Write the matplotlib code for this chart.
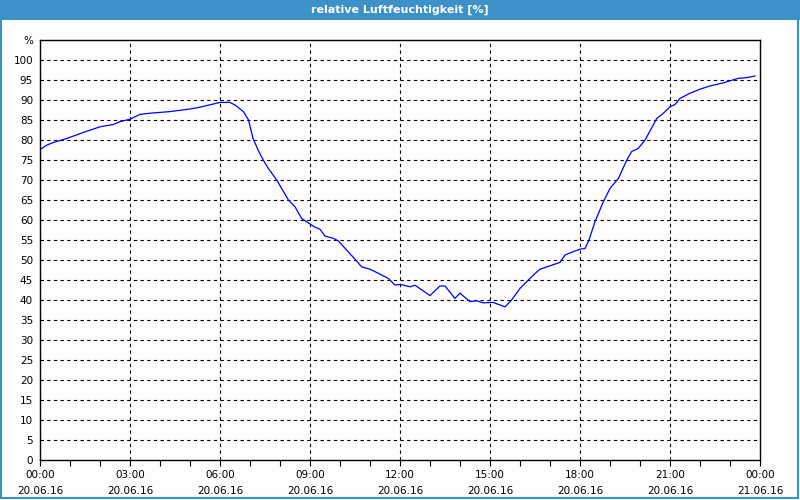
import numpy as np
import matplotlib
matplotlib.use("Agg")
import matplotlib.pyplot as plt
from matplotlib.patches import Rectangle

# Messwerte (Stunden ab 20.06.16 00:00, rel. Feuchte in %)
hours = [0.0, 0.1, 0.22, 0.45, 0.9, 1.45, 2.0, 2.45, 2.67, 3.0, 3.33, 3.67,
         4.33, 5.0, 5.33, 5.78, 6.0, 6.33, 6.5, 6.78, 6.95, 7.1, 7.27, 7.44,
         7.61, 7.89, 8.28, 8.5, 8.72, 9.0, 9.17, 9.33, 9.5, 9.78, 9.94, 10.5,
         10.72, 11.0, 11.39, 11.61, 11.83, 12.02, 12.33, 12.5, 13.0, 13.33,
         13.5, 13.83, 14.0, 14.33, 14.56, 14.77, 15.1, 15.5, 15.72, 16.0,
         16.33, 16.6, 16.67, 17.33, 17.5, 17.78, 18.0, 18.17, 18.3, 18.5,
         18.78, 19.0, 19.28, 19.56, 19.72, 19.94, 20.17, 20.56, 20.78, 21.0,
         21.17, 21.33, 21.67, 22.0, 22.33, 22.78, 23.27, 23.56, 23.83]
humidity = [77.5, 78.1, 78.7, 79.4, 80.4, 81.9, 83.3, 83.9, 84.6, 85.2, 86.4,
            86.7, 87.1, 87.75, 88.2, 89.0, 89.4, 89.4, 88.75, 87.1, 85.0, 80.4,
            77.5, 75.0, 72.9, 70.0, 65.0, 63.3, 60.4, 59.0, 58.2, 57.7, 56.0,
            55.4, 54.8, 50.2, 48.3, 47.7, 46.25, 45.4, 43.75, 43.9, 43.3, 43.7,
            41.1, 43.5, 43.5, 40.4, 41.7, 39.6, 39.8, 39.3, 39.4, 38.3, 40.0,
            42.9, 45.4, 47.3, 47.7, 49.4, 51.25, 52.1, 52.7, 52.9, 55.0, 59.6,
            64.6, 67.9, 70.4, 75.0, 77.1, 77.9, 80.0, 85.4, 86.7, 88.3, 88.9,
            90.4, 91.7, 92.7, 93.5, 94.3, 95.4, 95.6, 96.0]

major_hours = [0, 3, 6, 9, 12, 15, 18, 21, 24]
major_labels = ['00:00\n20.06.16', '03:00\n20.06.16', '06:00\n20.06.16',
                '09:00\n20.06.16', '12:00\n20.06.16', '15:00\n20.06.16',
                '18:00\n20.06.16', '21:00\n20.06.16', '00:00\n21.06.16']
y_ticks = list(range(0, 101, 5))

title_blue = '#3c91c8'
bg = '#fcfdfc'

fig = plt.figure(figsize=(8, 5), dpi=100, facecolor=bg)

# Titelleiste und Fensterrahmen
fig.patches.append(Rectangle((0, 0.96), 1, 0.04, transform=fig.transFigure,
                             facecolor=title_blue, edgecolor='none', zorder=0))
fig.patches.append(Rectangle((0.0015, 0.004), 0.9955, 0.99, transform=fig.transFigure,
                             facecolor='none', edgecolor=title_blue, lw=1.5, zorder=0))
fig.text(0.5, 0.981, 'relative Luftfeuchtigkeit [%]', ha='center', va='center',
         color='white', fontsize=8, fontweight='semibold')

ax = fig.add_axes([0.05, 0.08, 0.9, 0.84])
ax.set_facecolor(bg)
ax.plot(hours, humidity, color='#0000ff', lw=0.9)

ax.set_xlim(0, 24)
ax.set_ylim(0, 105)
ax.set_xticks(major_hours)
ax.set_xticklabels(major_labels, fontsize=7.5, linespacing=1.75)
ax.set_xticks(range(0, 25), minor=True)
ax.set_yticks(y_ticks + [105])
ax.set_yticklabels([str(v) for v in y_ticks] + ['%'], fontsize=7.5)

ax.tick_params(axis='x', which='both', direction='out', length=4, width=0.8, pad=3)
ax.tick_params(axis='y', length=0, pad=5)

for v in y_ticks[1:]:
    ax.axhline(v, color='black', lw=0.8, linestyle=(0, (3, 3)), zorder=1)
for h in major_hours[1:-1]:
    ax.axvline(h, color='black', lw=0.8, linestyle=(0, (3, 3)), zorder=1)

for s in ax.spines.values():
    s.set_linewidth(1.0)
    s.set_color('black')

fig.savefig('out.png', dpi=100, facecolor=bg)
